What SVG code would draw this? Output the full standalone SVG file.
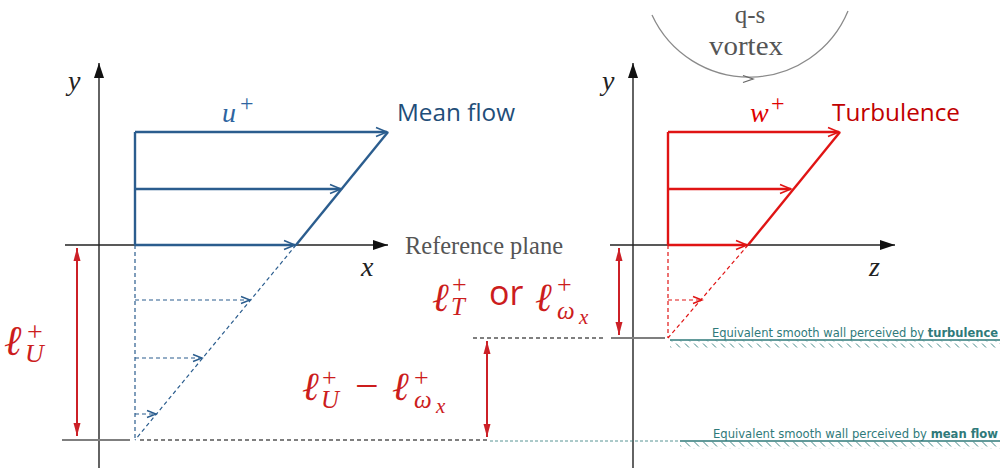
<svg xmlns="http://www.w3.org/2000/svg" width="1000" height="473" viewBox="0 0 1000 473">
<style>
.ax{stroke:#222;stroke-width:1.4;fill:none}
.bl{stroke:#2b5d8e;stroke-width:2.4;fill:none}
.bld{stroke:#2b5d8e;stroke-width:1.2;fill:none;stroke-dasharray:4 3}
.rd{stroke:#e01414;stroke-width:2.4;fill:none}
.rdd{stroke:#e01414;stroke-width:1.2;fill:none;stroke-dasharray:4 3}
.dim{stroke:#cc2027;stroke-width:2;fill:none}
.gw{stroke:#7f7f7f;stroke-width:2;fill:none}
.gwd{stroke:#7f7f7f;stroke-width:2;fill:none;stroke-dasharray:4 3}
.tl{stroke:#2f7a7a;stroke-width:1.3;fill:none}
.tld{stroke:#2f7a7a;stroke-width:0.8;fill:none;stroke-dasharray:3 2}
.m{font-family:"Liberation Serif","DejaVu Serif",serif;font-style:italic}
.mp{font-family:"Liberation Serif","DejaVu Serif",serif;font-style:normal}
.red{fill:#cc1d1d}
.sans{font-family:"Open Sans","Liberation Sans",sans-serif}
.wall{font-family:"DejaVu Sans",sans-serif;font-size:12px;fill:#2f7a7a}
.ser{font-family:"Liberation Serif",serif;fill:#555}
</style>
<defs>
<marker id="axh" markerWidth="16" markerHeight="12" refX="15" refY="6" orient="auto" markerUnits="userSpaceOnUse"><path d="M0,1 L15,6 L0,11 z" fill="#111"/></marker>
<marker id="cb" markerWidth="14" markerHeight="12" refX="12" refY="6" orient="auto" markerUnits="userSpaceOnUse"><path d="M1,1.5 L12,6 L1,10.5" fill="none" stroke="#2b5d8e" stroke-width="1.6"/></marker>
<marker id="cbs" markerWidth="12" markerHeight="10" refX="10" refY="5" orient="auto" markerUnits="userSpaceOnUse"><path d="M1,1.5 L10,5 L1,8.5" fill="none" stroke="#2b5d8e" stroke-width="1.4"/></marker>
<marker id="cr" markerWidth="14" markerHeight="12" refX="12" refY="6" orient="auto" markerUnits="userSpaceOnUse"><path d="M1,1.5 L12,6 L1,10.5" fill="none" stroke="#e01414" stroke-width="1.6"/></marker>
<marker id="crs" markerWidth="12" markerHeight="10" refX="10" refY="5" orient="auto" markerUnits="userSpaceOnUse"><path d="M1,1.5 L10,5 L1,8.5" fill="none" stroke="#e01414" stroke-width="1.4"/></marker>
<marker id="dh" markerWidth="14" markerHeight="10" refX="13" refY="5" orient="auto-start-reverse" markerUnits="userSpaceOnUse"><path d="M0,1.5 L13,5 L0,8.5 z" fill="#cc2027"/></marker>
<pattern id="hatch" width="9" height="7" patternUnits="userSpaceOnUse"><path d="M1,0.5 L6,5.5" stroke="#2f7a7a" stroke-width="0.9"/></pattern>
</defs>

<g id="connectors">
<line class="ax" x1="99" y1="468" x2="99" y2="63" marker-end="url(#axh)"/>
<line class="ax" x1="65" y1="245" x2="388" y2="245" marker-end="url(#axh)"/>
<line class="ax" x1="633" y1="468" x2="633" y2="63" marker-end="url(#axh)"/>
<line class="ax" x1="610" y1="245" x2="895" y2="245" marker-end="url(#axh)"/>

<polyline class="bl" points="135,245 135,132"/>
<line class="bl" x1="135" y1="132" x2="387" y2="132" marker-end="url(#cb)"/>
<line class="bl" x1="135" y1="189" x2="341" y2="189" marker-end="url(#cb)"/>
<line class="bl" x1="135" y1="245" x2="295" y2="245" marker-end="url(#cb)"/>
<line class="bl" x1="296" y1="245" x2="388" y2="132"/>
<line class="bld" x1="135" y1="245" x2="135" y2="440"/>
<line class="bld" x1="296" y1="245" x2="135" y2="440"/>
<line class="bld" x1="135" y1="300" x2="250" y2="300" marker-end="url(#cbs)"/>
<line class="bld" x1="135" y1="358" x2="202" y2="358" marker-end="url(#cbs)"/>
<line class="bld" x1="135" y1="414" x2="156" y2="414" marker-end="url(#cbs)"/>

<polyline class="rd" points="668,245 668,132"/>
<line class="rd" x1="668" y1="132" x2="839" y2="132" marker-end="url(#cr)"/>
<line class="rd" x1="668" y1="189" x2="791" y2="189" marker-end="url(#cr)"/>
<line class="rd" x1="668" y1="245" x2="747" y2="245" marker-end="url(#cr)"/>
<line class="rd" x1="748" y1="245" x2="840" y2="132"/>
<line class="rdd" x1="668" y1="245" x2="668" y2="338"/>
<line class="rdd" x1="748" y1="245" x2="668" y2="338"/>
<line class="rdd" x1="668" y1="300" x2="702" y2="300" marker-end="url(#crs)"/>

<line class="gw" x1="62" y1="440" x2="130" y2="440"/>
<line class="gwd" x1="140" y1="440" x2="490" y2="440"/>
<line class="tld" x1="490" y1="441" x2="680" y2="441"/>
<line class="gwd" x1="473" y1="338" x2="604" y2="338"/>
<line class="gw" x1="611" y1="338" x2="665" y2="338"/>

<line class="dim" x1="77" y1="248" x2="77" y2="436" marker-start="url(#dh)" marker-end="url(#dh)"/>
<line class="dim" x1="487" y1="341" x2="487" y2="437" marker-start="url(#dh)" marker-end="url(#dh)"/>
<line class="dim" x1="619" y1="248" x2="619" y2="335" marker-start="url(#dh)" marker-end="url(#dh)"/>

<path d="M652,15 A107,107 0 0 0 848,11" fill="none" stroke="#8a8a8a" stroke-width="1.3"/>
<path d="M743,75.5 L753,79 L743,82.5" fill="none" stroke="#666" stroke-width="1.3"/>
</g>

<g id="wall-turbulence">
<line class="tl" x1="670" y1="340" x2="1000" y2="340"/>
<rect x="670" y="340.5" width="330" height="7" fill="url(#hatch)"/>
<text class="wall" x="712" y="337" textLength="286" lengthAdjust="spacingAndGlyphs">Equivalent smooth wall perceived by <tspan font-weight="bold">turbulence</tspan></text>
</g>

<g id="wall-meanflow">
<line class="tl" x1="680" y1="441" x2="1000" y2="441"/>
<rect x="680" y="441.5" width="320" height="7" fill="url(#hatch)"/>
<text class="wall" x="713" y="438" textLength="285" lengthAdjust="spacingAndGlyphs">Equivalent smooth wall perceived by <tspan font-weight="bold">mean flow</tspan></text>
</g>

<g id="labels-left">
<text class="m" x="68" y="90" font-size="28" fill="#222">y</text>
<text class="m" x="361" y="276" font-size="28" fill="#222">x</text>
<text fill="#2e64a0"><tspan class="m" x="222" y="122" font-size="28">u</tspan><tspan class="mp" x="240" y="111" font-size="24">+</tspan></text>
<text class="sans" x="397" y="121" font-size="24" fill="#1f4e79" textLength="118" lengthAdjust="spacingAndGlyphs">Mean flow</text>
</g>

<g id="labels-right">
<text class="m" x="602" y="90" font-size="28" fill="#222">y</text>
<text class="m" x="869" y="276" font-size="28" fill="#222">z</text>
<text fill="#e00000"><tspan class="m" x="750" y="122" font-size="28">w</tspan><tspan class="mp" x="771" y="111" font-size="24">+</tspan></text>
<text class="sans" x="832" y="121" font-size="24" fill="#c00000" textLength="128" lengthAdjust="spacingAndGlyphs">Turbulence</text>
<text class="ser" x="405" y="254" font-size="25" textLength="158" lengthAdjust="spacingAndGlyphs">Reference plane</text>
<text class="ser" x="750" y="23" font-size="25" text-anchor="middle">q-s</text>
<text class="ser" x="746" y="55" font-size="27" text-anchor="middle" textLength="74" lengthAdjust="spacingAndGlyphs">vortex</text>
</g>

<g id="label-lU">
<text class="red"><tspan class="m" x="4" y="355" font-size="42">ℓ</tspan><tspan class="mp" x="27" y="341" font-size="28">+</tspan><tspan class="m" x="25" y="362" font-size="26">U</tspan></text>
</g>

<g id="label-lU-minus">
<text class="red"><tspan class="m" x="302" y="400" font-size="40">ℓ</tspan><tspan class="mp" x="322" y="386" font-size="26">+</tspan><tspan class="m" x="321" y="408" font-size="25">U</tspan><tspan class="mp" x="355" y="400" font-size="42">−</tspan><tspan class="m" x="392" y="400" font-size="40">ℓ</tspan><tspan class="mp" x="414" y="386" font-size="26">+</tspan><tspan class="m" x="414" y="408" font-size="25">ω</tspan><tspan class="m" x="436" y="413" font-size="21">x</tspan></text>
</g>

<g id="label-lT">
<text class="red"><tspan class="m" x="432" y="311" font-size="40">ℓ</tspan><tspan class="mp" x="452" y="293" font-size="26">+</tspan><tspan class="m" x="451" y="315" font-size="25">T</tspan><tspan class="sans" x="489" y="305" font-size="34" font-style="normal">or</tspan><tspan class="m" x="535" y="311" font-size="40">ℓ</tspan><tspan class="mp" x="557" y="293" font-size="26">+</tspan><tspan class="m" x="557" y="319" font-size="25">ω</tspan><tspan class="m" x="579" y="324" font-size="21">x</tspan></text>
</g>
</svg>
